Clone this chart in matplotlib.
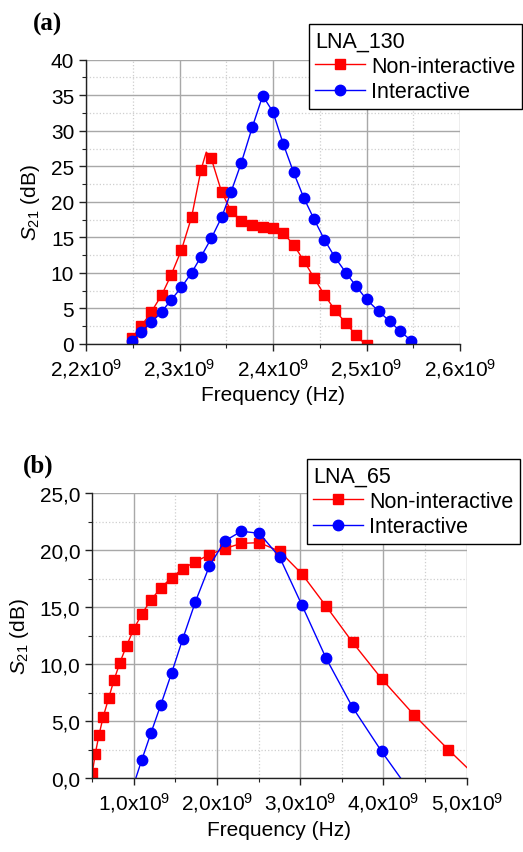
import numpy as np
import matplotlib
matplotlib.use("Agg")
import matplotlib.pyplot as plt
from matplotlib.ticker import MultipleLocator, FuncFormatter

plt.rcParams["font.family"] = ["Liberation Sans", "DejaVu Sans"]
plt.rcParams["mathtext.fontset"] = "custom"
plt.rcParams["mathtext.rm"] = "Liberation Sans"
plt.rcParams["mathtext.it"] = "Liberation Sans:italic"

###################
# Data (panel a)  #
###################
# LNA_130, frequency in GHz
freq_a = [2.249, 2.259, 2.270, 2.281, 2.291, 2.302, 2.313, 2.323, 2.334, 2.345,
          2.355, 2.366, 2.378, 2.389, 2.400, 2.411, 2.422, 2.433, 2.444, 2.455,
          2.466, 2.478, 2.489, 2.500, 2.513, 2.525, 2.536, 2.548]
non_inter_a = [0.8, 2.5, 4.55, 6.9, 9.7, 13.2, 17.9, 24.5, 26.1, 21.4,
               18.75, 17.35, 16.74, 16.5, 16.27, 15.6, 13.97, 11.72, 9.28, 6.9,
               4.83, 2.91, 1.22, -0.2]
inter_a = [0.47, 1.74, 3.05, 4.55, 6.19, 7.97, 10.03, 12.29, 14.87, 17.82,
           21.34, 25.46, 30.57, 34.93, 32.64, 28.14, 24.15, 20.54, 17.54, 14.68,
           12.24, 10.03, 8.11, 6.28, 4.60, 3.19, 1.79, 0.46]
# the red trace overshoots between two samples
peak_a = (2.3286, 27.0)

###################
# Data (panel b)  #
###################
# LNA_65, frequency in GHz
freq_b = [0.500, 0.536, 0.580, 0.632, 0.696, 0.760, 0.832, 0.912, 1.000, 1.096,
          1.204, 1.324, 1.452, 1.588, 1.740, 1.908, 2.092, 2.292, 2.508, 2.752,
          3.020, 3.308, 3.628, 3.976, 4.364, 4.780, 5.250]
non_inter_b = [0.47, 2.16, 3.80, 5.41, 7.02, 8.60, 10.15, 11.64, 13.1, 14.42,
               15.64, 16.70, 17.60, 18.39, 19.0, 19.62, 20.15, 20.61, 20.67, 19.91,
               17.92, 15.12, 11.93, 8.74, 5.58, 2.51, -0.8]
freq_b_inter = freq_b[8:25]
inter_b = [-0.5, 1.64, 3.95, 6.46, 9.21, 12.25, 15.5, 18.63, 20.82, 21.67,
           21.49, 19.39, 15.18, 10.56, 6.23, 2.37, -1.6]

RED = "#ff0000"
BLUE = "#0000ff"


def style_axes(ax):
    for s in ["top", "right"]:
        ax.spines[s].set_visible(False)
    for s in ["left", "bottom"]:
        ax.spines[s].set_color("#222222")
        ax.spines[s].set_linewidth(1.0)
    ax.grid(which="major", color="#a8a8a8", linestyle="-", linewidth=1.0)
    ax.grid(which="minor", color="#cfcfcf", linestyle=":", linewidth=0.9)
    ax.set_axisbelow(True)
    ax.tick_params(which="major", direction="out", length=5, width=1, labelsize=15,
                   colors="#222222", labelcolor="black")
    ax.tick_params(which="minor", direction="out", length=3, width=0.8, colors="#222222")
    ax.set_xlabel("Frequency (Hz)", fontsize=15, labelpad=4)
    ax.set_ylabel(r"$S_{21}$ (dB)", fontsize=15, labelpad=6)


def legend(ax, title, x, y):
    leg = ax.legend(title=title, loc="upper left", bbox_to_anchor=(x / 523, 1 - y / 853),
                    bbox_transform=fig.transFigure, borderaxespad=0, fancybox=False,
                    framealpha=1, edgecolor="black", fontsize=15.5, title_fontsize=15.5,
                    alignment="left", handlelength=2.3, handletextpad=0.3,
                    labelspacing=0.2, borderpad=0.3)
    leg.get_frame().set_linewidth(1.0)
    return leg


fig = plt.figure(figsize=(5.23, 8.53), dpi=100)

# Panel (a)
ax1 = fig.add_axes([86 / 523, 1 - 345 / 853, 374 / 523, 284.3 / 853])
fa = np.array(freq_a) * 1e9
line_f = np.insert(fa[:len(non_inter_a)], 8, peak_a[0] * 1e9)
line_s = np.insert(np.array(non_inter_a), 8, peak_a[1])
ax1.plot(line_f, line_s, color=RED, lw=1.0)
ax1.plot(fa[:len(non_inter_a)], non_inter_a, color=RED, lw=0, marker="s", ms=7)
ax1.plot([], [], color=RED, lw=1.0, marker="s", ms=7, label="Non-interactive")
ax1.plot(fa, inter_a, color=BLUE, lw=1.0, marker="o", ms=7.5, label="Interactive")
ax1.set_xlim(2.2e9, 2.6e9)
ax1.set_ylim(0, 40)
ax1.xaxis.set_major_locator(MultipleLocator(0.1e9))
ax1.xaxis.set_minor_locator(MultipleLocator(0.05e9))
ax1.yaxis.set_major_locator(MultipleLocator(5))
ax1.yaxis.set_minor_locator(MultipleLocator(2.5))
ax1.xaxis.set_major_formatter(FuncFormatter(
    lambda v, p: f"{v / 1e9:.1f}".replace(".", ",") + r"x10$^{9}$"))
style_axes(ax1)
legend(ax1, "LNA_130", 309, 25)
fig.text(33 / 523, 1 - 24 / 853, "(a)", fontsize=18, fontweight="bold",
         family="Liberation Serif", ha="left", va="center")

# Panel (b)
ax2 = fig.add_axes([92.3 / 523, 1 - 779.3 / 853, 374.4 / 523, 285 / 853])
fb = np.array(freq_b) * 1e9
ax2.plot(fb, non_inter_b, color=RED, lw=1.0, marker="s", ms=7, label="Non-interactive")
ax2.plot(np.array(freq_b_inter) * 1e9, inter_b, color=BLUE, lw=1.0, marker="o", ms=7.5,
         label="Interactive")
ax2.set_xlim(0.5e9, 5.0e9)
ax2.set_ylim(0, 25)
ax2.xaxis.set_major_locator(MultipleLocator(1e9))
ax2.xaxis.set_minor_locator(MultipleLocator(0.5e9))
ax2.yaxis.set_major_locator(MultipleLocator(5))
ax2.yaxis.set_minor_locator(MultipleLocator(2.5))
ax2.xaxis.set_major_formatter(FuncFormatter(
    lambda v, p: f"{v / 1e9:.1f}".replace(".", ",") + r"x10$^{9}$"))
ax2.yaxis.set_major_formatter(FuncFormatter(lambda v, p: f"{v:.1f}".replace(".", ",")))
style_axes(ax2)
legend(ax2, "LNA_65", 307, 460)
fig.text(23 / 523, 1 - 466 / 853, "(b)", fontsize=18, fontweight="bold",
         family="Liberation Serif", ha="left", va="center")

fig.savefig("out.png", dpi=100)
